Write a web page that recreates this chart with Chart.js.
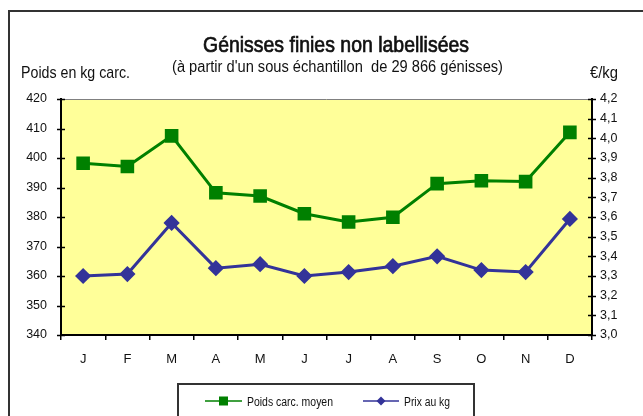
<!DOCTYPE html>
<html>
<head>
<meta charset="utf-8">
<script src="https://cdn.jsdelivr.net/npm/chart.js@4"></script>
<style>
  html, body { margin: 0; padding: 0; background: #fff; }
  #wrap { width: 643px; height: 416px; }
</style>
</head>
<body>
<div id="wrap"><canvas id="genChart" width="643" height="416"></canvas></div>
<script>
const months = ['J', 'F', 'M', 'A', 'M', 'J', 'J', 'A', 'S', 'O', 'N', 'D'];
const poidsMoyen = [398.2, 397.1, 407.5, 388.2, 387.1, 381.1, 378.3, 379.9, 391.3, 392.3, 392.0, 408.7];
const prixKg = [3.30, 3.31, 3.57, 3.34, 3.36, 3.30, 3.32, 3.35, 3.40, 3.33, 3.32, 3.59];
const seriesNames = ['Poids carc. moyen', 'Prix au kg'];
const titleText = 'Génisses finies non labellisées';
const subtitleText = "(à partir d'un sous échantillon  de 29 866 génisses)";
const leftTitle = 'Poids en kg carc.';
const rightTitle = '€/kg';

const FONT = "'Liberation Sans', Arial, sans-serif";
const GREEN = '#008000';
const BLUE = '#333399';

// texte "étroit" : taille de police + largeur voulue
function drawNarrow(ctx, text, left, baseline, size, width, heavy) {
    ctx.save();
    ctx.font = size + 'px ' + FONT;
    const w = ctx.measureText(text).width;
    ctx.translate(left, baseline);
    ctx.scale(width / w, 1);
    ctx.textAlign = 'left';
    ctx.textBaseline = 'alphabetic';
    ctx.fillText(text, 0, 0);
    if (heavy) {
        ctx.strokeStyle = ctx.fillStyle;
        ctx.lineWidth = heavy;
        ctx.strokeText(text, 0, 0);
    }
    ctx.restore();
}

// fond jaune + cadre
const framePlugin = {
    id: 'frame',
    beforeDraw(chart) {
        const { ctx, chartArea: a } = chart;
        ctx.save();
        ctx.fillStyle = '#FFFF99';
        ctx.fillRect(a.left, a.top, a.right - a.left, a.bottom - a.top);
        ctx.strokeStyle = '#808080';
        ctx.lineWidth = 1;
        ctx.beginPath();
        ctx.moveTo(a.left, a.top + 0.5);
        ctx.lineTo(a.right, a.top + 0.5);
        ctx.stroke();
        ctx.restore();
    },
    afterDraw(chart) {
        const { ctx, chartArea: a } = chart;
        ctx.save();
        // outer border
        ctx.strokeStyle = '#333';
        ctx.lineWidth = 2;
        ctx.strokeRect(9, 11, 800, 600);

        // ticks crossing the y axes
        ctx.strokeStyle = '#000';
        ctx.lineWidth = 1.5;
        [['y', a.left], ['y1', a.right]].forEach(([id, x]) => {
            const s = chart.scales[id];
            s.ticks.forEach(t => {
                const y = Math.round(s.getPixelForValue(t.value)) + 0.5;
                ctx.beginPath();
                ctx.moveTo(x - 4, y);
                ctx.lineTo(x + 4, y);
                ctx.stroke();
            });
        });

        // texts
        ctx.fillStyle = '#111';
        drawNarrow(ctx, titleText, 203, 52, 22, 266, 0.7);
        drawNarrow(ctx, subtitleText, 172, 72, 16, 331);
        drawNarrow(ctx, leftTitle, 21, 78, 17, 109);
        drawNarrow(ctx, rightTitle, 590, 78, 17, 28);

        // legend
        ctx.strokeStyle = '#333';
        ctx.lineWidth = 2;
        ctx.strokeRect(178, 384, 296, 60);
        const items = [
            { x: 205, w: 37, tx: 247, tw: 86, ds: chart.data.datasets[0] },
            { x: 363, w: 36, tx: 404, tw: 46, ds: chart.data.datasets[1] }
        ];
        const ly = 401;
        items.forEach(it => {
            ctx.strokeStyle = it.ds.borderColor;
            ctx.fillStyle = it.ds.borderColor;
            ctx.lineWidth = 1.5;
            ctx.beginPath();
            ctx.moveTo(it.x, ly);
            ctx.lineTo(it.x + it.w, ly);
            ctx.stroke();
            const cx = it.x + it.w / 2;
            if (it.ds.pointStyle === 'rect') {
                ctx.fillRect(cx - 4.5, ly - 4.5, 9, 9);
            } else {
                ctx.beginPath();
                ctx.moveTo(cx, ly - 4.5);
                ctx.lineTo(cx + 4.5, ly);
                ctx.lineTo(cx, ly + 4.5);
                ctx.lineTo(cx - 4.5, ly);
                ctx.closePath();
                ctx.fill();
            }
            ctx.fillStyle = '#111';
            drawNarrow(ctx, it.ds.label, it.tx, ly + 5, 12, it.tw);
        });
        ctx.restore();
    }
};

const tickFont = { family: FONT, size: 12.5 };

new Chart(document.getElementById('genChart'), {
    type: 'line',
    data: {
        labels: months,
        datasets: [
            { label: seriesNames[0], data: poidsMoyen, yAxisID: 'y', borderColor: GREEN, backgroundColor: GREEN, borderWidth: 3, pointStyle: 'rect', pointRadius: 7.5, pointHoverRadius: 7.5, tension: 0 },
            { label: seriesNames[1], data: prixKg, yAxisID: 'y1', borderColor: BLUE, backgroundColor: BLUE, borderWidth: 3, pointStyle: 'rectRot', pointRadius: 6, pointHoverRadius: 6, tension: 0 }
        ]
    },
    options: {
        responsive: false,
        animation: false,
        events: [],
        layout: { padding: { top: 99, left: 0, right: 0, bottom: 0 } },
        plugins: { legend: { display: false }, title: { display: false }, tooltip: { enabled: false } },
        scales: {
            x: {
                offset: true,
                grid: { display: true, offset: true, drawOnChartArea: false, drawTicks: true, tickLength: 5, color: '#000', lineWidth: 1.5 },
                border: { display: true, color: '#000', width: 2 },
                ticks: { color: '#111', font: { family: FONT, size: 13 }, padding: 12, maxRotation: 0, autoSkip: false },
                afterFit: s => { s.height = 81; }
            },
            y: {
                position: 'left',
                min: 340, max: 420,
                grid: { display: true, drawOnChartArea: false, drawTicks: false },
                border: { display: true, color: '#000', width: 2 },
                ticks: { stepSize: 10, color: '#111', font: tickFont, padding: 14 },
                afterFit: s => { s.width = 61; }
            },
            y1: {
                position: 'right',
                min: 3.0, max: 4.2,
                grid: { display: true, drawOnChartArea: false, drawTicks: false },
                border: { display: true, color: '#000', width: 2 },
                ticks: { stepSize: 0.1, color: '#111', font: tickFont, padding: 8, callback: v => v.toFixed(1).replace('.', ',') },
                afterFit: s => { s.width = 51; }
            }
        }
    },
    plugins: [framePlugin]
});
</script>
</body>
</html>
